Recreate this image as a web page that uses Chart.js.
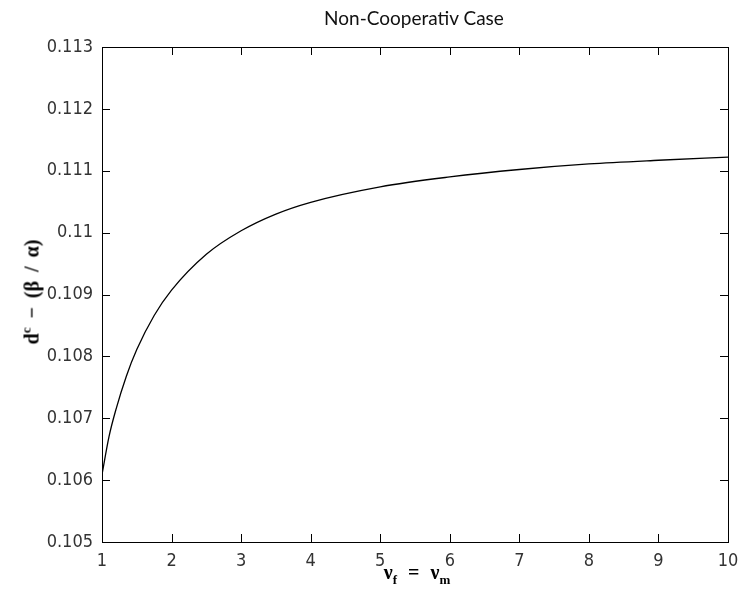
<!DOCTYPE html>
<html>
<head>
<meta charset="utf-8">
<script src="https://cdn.jsdelivr.net/npm/chart.js@4.4.0/dist/chart.umd.min.js"></script>
<style>
    html, body { margin: 0; padding: 0; background: #fff; }
    #wrap { position: relative; width: 740px; height: 603px; }
    #wrap canvas { position: absolute; left: 0; top: 0; }
    .lbl { position: absolute; white-space: nowrap; color: #000; }
    #title { left: 414px; top: 8px; transform: translateX(-50%); font: 19px/19px Lato, "Open Sans", sans-serif; color: #111; }
    #xtitle { left: 417px; top: 562px; transform: translateX(-50%); font: bold 20px/20px "Liberation Serif", serif; word-spacing: 6px; }
    #ytitle { left: 29px; top: 292px; transform: translate(-50%, -50%) rotate(-90deg); font: bold 20px/20px "Liberation Serif", serif; word-spacing: 4px; }
    sub, sup { font-size: 13px; }
    sub { vertical-align: -5px; }
    sup { vertical-align: 8px; }
</style>
</head>
<body>
<div id="wrap">
    <canvas id="chart" width="740" height="603"></canvas>
    <div class="lbl" id="title">Non-Cooperativ Case</div>
    <div class="lbl" id="xtitle">&nu;<sub>f</sub> = &nu;<sub>m</sub></div>
    <div class="lbl" id="ytitle">d<sup>c</sup> &minus; (&beta; / &alpha;)</div>
</div>
<script>
(function () {
    'use strict';

    // values
    var nuValues = [1, 1.1, 1.2, 1.35, 1.5, 1.75, 2, 2.5, 3, 3.5, 4, 5, 6, 7, 8, 9, 10];
    var dValues = [0.10609, 0.10670, 0.10714, 0.10768, 0.10811, 0.10866, 0.10907, 0.10965,
        0.11003, 0.11030, 0.11049, 0.11074, 0.11090, 0.11102, 0.11111, 0.11117, 0.11122];

    var xTicks = [1, 2, 3, 4, 5, 6, 7, 8, 9, 10];
    var yTicks = [0.105, 0.106, 0.107, 0.108, 0.109, 0.11, 0.111, 0.112, 0.113];

    var points = nuValues.map(function (v, i) { return { x: v, y: dValues[i] }; });

    // narrow digits like the matlab labels
    var tickFont = { family: '"Liberation Sans Narrow", "DejaVu Sans", sans-serif', weight: 'normal condensed', size: 18 };

    // matlab style box with inward ticks on all four sides
    var boxPlugin = {
        id: 'matlabBox',
        afterDraw: function (chart) {
            var a = chart.chartArea;
            var c = chart.ctx;
            var xs = chart.scales.x, ys = chart.scales.y;
            var len = 8;
            c.save();
            c.strokeStyle = '#000';
            c.lineWidth = 1;
            c.strokeRect(Math.round(a.left) + 0.5, Math.round(a.top) + 0.5,
                Math.round(a.right - a.left), Math.round(a.bottom - a.top));
            c.beginPath();
            xTicks.forEach(function (t) {
                var px = Math.round(xs.getPixelForValue(t)) + 0.5;
                c.moveTo(px, a.bottom); c.lineTo(px, a.bottom - len);
                c.moveTo(px, a.top); c.lineTo(px, a.top + len);
            });
            yTicks.forEach(function (t) {
                var py = Math.round(ys.getPixelForValue(t)) + 0.5;
                c.moveTo(a.left, py); c.lineTo(a.left + len, py);
                c.moveTo(a.right, py); c.lineTo(a.right - len, py);
            });
            c.stroke();
            c.restore();
        }
    };

    new Chart(document.getElementById('chart'), {
        type: 'line',
        data: {
            datasets: [{
                data: points,
                borderColor: '#000',
                borderWidth: 1.3,
                pointRadius: 0,
                fill: false,
                cubicInterpolationMode: 'monotone'
            }]
        },
        options: {
            responsive: false,
            animation: false,
            layout: { padding: { top: 47, right: 12, left: 0, bottom: 0 } },
            plugins: { legend: { display: false }, tooltip: { enabled: false } },
            scales: {
                x: {
                    type: 'linear',
                    min: 1,
                    max: 10,
                    afterFit: function (s) { s.height = 61; s.paddingLeft = 0; s.paddingRight = 0; },
                    afterBuildTicks: function (s) { s.ticks = xTicks.map(function (v) { return { value: v }; }); },
                    grid: { display: false, drawTicks: false },
                    border: { display: false },
                    ticks: { font: tickFont, color: '#333', padding: 9, maxRotation: 0 }
                },
                y: {
                    type: 'linear',
                    min: 0.105,
                    max: 0.113,
                    afterFit: function (s) { s.width = 102; s.paddingTop = 0; s.paddingBottom = 0; },
                    afterBuildTicks: function (s) { s.ticks = yTicks.map(function (v) { return { value: v }; }); },
                    grid: { display: false, drawTicks: false },
                    border: { display: false },
                    ticks: {
                        font: tickFont,
                        color: '#333',
                        padding: 9,
                        callback: function (v) { return String(Number(v.toFixed(3))); }
                    }
                }
            }
        },
        plugins: [boxPlugin]
    });
}());
</script>
</body>
</html>
